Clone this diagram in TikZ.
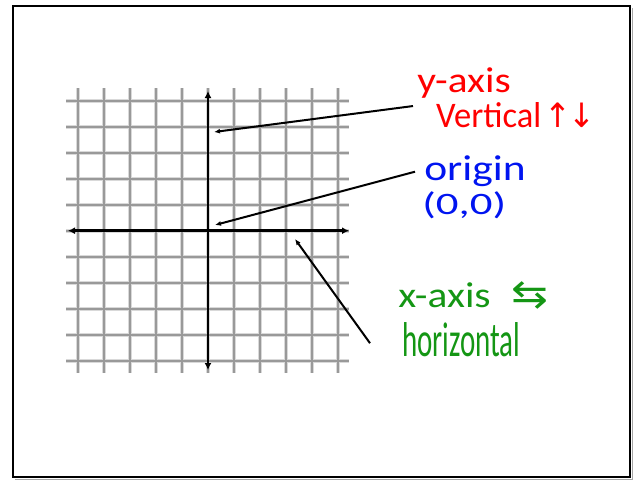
\documentclass[tikz,border=0pt]{standalone}
\usepackage{fontspec}
\usepackage{xcolor}
\usetikzlibrary{arrows.meta, calc}
\newfontfamily\handfont{Carlito}
\newfontfamily\symfont{DejaVu Sans}
\definecolor{penred}{RGB}{255,0,0}
\definecolor{penblue}{RGB}{0,20,240}
\definecolor{pengreen}{RGB}{20,150,20}
\tikzset{
    gridhalo/.style={gray!30, line width=4pt},
    gridline/.style={gray!80, line width=1.6pt},
    axisline/.style={{Latex[length=7pt,width=7pt]}-{Latex[length=7pt,width=7pt]}, black, line width=2.6pt},
    pointer/.style={-{Latex[length=6pt,width=5pt]}, black, line width=2pt},
    handtext/.style={text=#1, font=\handfont\fontsize{30}{30}\selectfont, xscale=1.15, yscale=1.2, inner sep=0pt, anchor=base west}
}
\begin{document}
\begin{tikzpicture}[x=1pt, y=-1pt]
\useasboundingbox (0,0) rectangle (635,480);

% page frame with shadow
\draw[gray!70, line width=1.8pt] (632.5,8) -- (632.5,479.5) -- (15,479.5);
\draw[black, line width=2.4pt] (13,6) rectangle (630,477);

% grid (soft edge first, then the line)
\foreach \k in {0,...,10} {
    \draw[gridhalo] ({78+26*\k},88) -- ({78+26*\k},373);
    \draw[gridhalo] (66,{100.7+26*\k}) -- (349,{100.7+26*\k});
}
\foreach \k in {0,...,10} {
    \draw[gridline] ({78+26*\k},88) -- ({78+26*\k},373);
    \draw[gridline] (66,{100.7+26*\k}) -- (349,{100.7+26*\k});
}

% axes
\coordinate (O) at (208,230.7);
\draw[axisline] (68,230.7) -- (349,230.7);
\draw[axisline] (208,91) -- (208,370);

% labels
\node[handtext=penred, xscale=1.2] (yname) at (417,92) {y-axis};
\node[handtext=penred] (yvert) at (436,127) {Vertical\hspace{3pt}{\symfont\fontsize{28}{28}\selectfont ↑\hspace{-3pt}↓}};
\node[handtext=penblue, xscale=1.26] (oname) at (424,180) {origin};
\node[handtext=penblue, xscale=1.5, font=\handfont\fontsize{26}{26}\selectfont] (ocoord) at (422,214) {(0,0)};
\node[handtext=pengreen, xscale=1.2] (xname) at (398,307) {x-axis\hspace{15pt}{\symfont\fontsize{32}{32}\selectfont ⇆}};
\node[handtext=pengreen, xscale=1.05, yscale=1.7, font=\handfont\fontsize{24}{24}\selectfont] (xhoriz) at (402,356) {horizontal};

% pointers
\coordinate (ytip) at (214,132);
\coordinate (otip) at (215,225);
\coordinate (xtip) at (295,239);
\draw[pointer] ([xshift=-4pt,yshift=-8pt]yname.south west) -- (ytip);
\draw[pointer] ([xshift=-9pt,yshift=-1pt]oname.west) -- (otip);
\draw[pointer] ([xshift=-32pt,yshift=-4pt]xhoriz.west) -- (xtip);

\end{tikzpicture}
\end{document}
